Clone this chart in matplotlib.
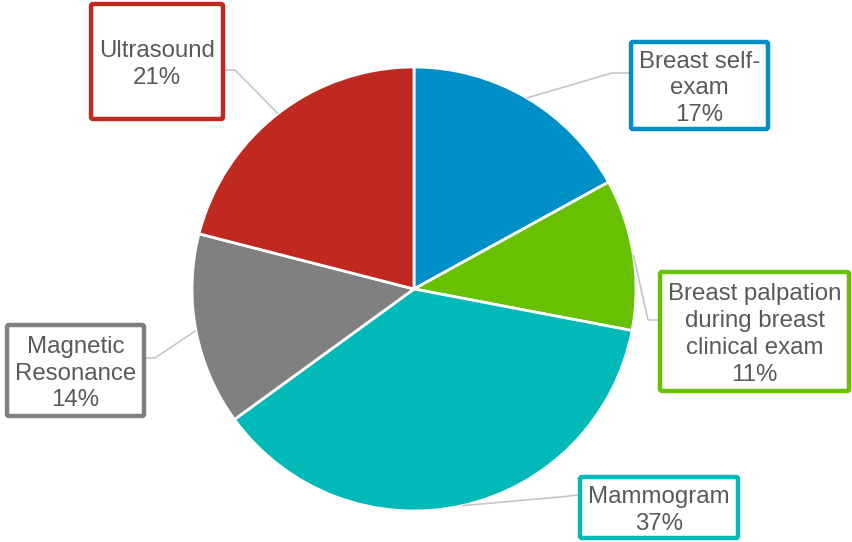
import matplotlib
matplotlib.use("Agg")
import matplotlib.pyplot as plt
import numpy as np
from matplotlib.patches import FancyBboxPatch

categories = ["Breast self-\nexam", "Breast palpation\nduring breast\nclinical exam",
              "Mammogram", "Magnetic\nResonance", "Ultrasound"]
values = [17, 11, 37, 14, 21]
colors = ["#008FC6", "#67C100", "#00B9B8", "#808080", "#C0291F"]

# label box layout (pixel coords, y from top): x0, y0, x1, y1
boxes = [(629, 40, 770, 131), (658, 270, 851, 393), (578, 475, 740, 540),
         (5, 323, 146, 418), (89, 2, 225, 121)]
# leader line elbow points (pixel coords, y from top)
elbows = [(612, 73), (648, 320), (560, 497), (155, 358), (235, 70)]
anchors = [(629, 73), (658, 320), (578, 495), (146, 358), (225, 70)]

W, H = 852, 542
fig = plt.figure(figsize=(W / 100, H / 100), dpi=100)
ax = fig.add_axes([0, 0, 1, 1])

cx, cy, R = 414, H - 289, 222
wedges, _ = ax.pie(values, colors=colors, startangle=90, counterclock=False,
                   center=(cx, cy), radius=R, frame=True,
                   wedgeprops=dict(edgecolor="white", linewidth=2))
ax.set_xlim(0, W)
ax.set_ylim(0, H)
ax.set_aspect("equal")
ax.axis("off")

for w, lab, v, col, b, el, an in zip(wedges, categories, values, colors, boxes, elbows, anchors):
    mid = np.deg2rad((w.theta1 + w.theta2) / 2)
    px, py = cx + R * np.cos(mid), cy + R * np.sin(mid)
    ax.plot([px, el[0], an[0]], [py, H - el[1], H - an[1]], color="#C6C6C6", lw=1.2,
            solid_capstyle="butt", zorder=1)
    x0, y0, x1, y1 = b
    ax.add_patch(FancyBboxPatch((x0 + 2, H - y1 + 2), x1 - x0 - 4, y1 - y0 - 4,
                                boxstyle="round,pad=0,rounding_size=2",
                                facecolor="white", edgecolor=col, lw=3.2, zorder=3))
    ax.text((x0 + x1) / 2, H - (y0 + y1) / 2 - 3, f"{lab}\n{v}%", ha="center", va="center",
            fontsize=17.3, family="Liberation Sans", color="#595959", linespacing=1.29, zorder=4)

fig.savefig("out.png", dpi=100)
